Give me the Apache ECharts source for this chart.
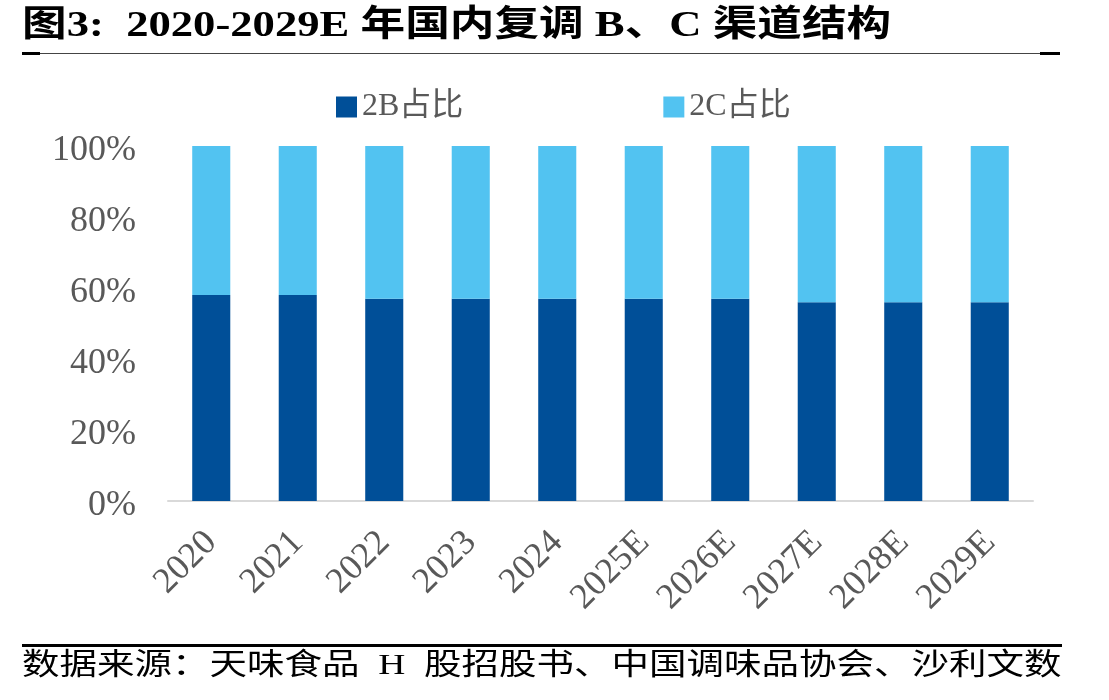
<!DOCTYPE html>
<html><head><meta charset="utf-8">
<script src="https://cdn.jsdelivr.net/npm/echarts@6/dist/echarts.min.js"></script>
<style>html,body{margin:0;padding:0;background:#fff}#c{width:1109px;height:700px}</style>
</head><body><div id="c"></div>
<script>
var categories = ['2020','2021','2022','2023','2024','2025E','2026E','2027E','2028E','2029E'];
var share2B = [58, 58, 57, 57, 57, 57, 57, 56, 56, 56];
var share2C = [42, 42, 43, 43, 43, 43, 43, 44, 44, 44];
var yTicks = [0, 20, 40, 60, 80, 100];
var titleText = '图3:  2020-2029E 年国内复调 B、C 渠道结构';
var sourceText = '数据来源：天味食品  H  股招股书、中国调味品协会、沙利文数';

var serif = '"Liberation Serif","Times New Roman","Noto Sans CJK SC",serif';
var chart = echarts.init(document.getElementById('c'));
chart.setOption({
  animation: false,
  backgroundColor: '#fff',
  grid: {left: 168, right: 76, top: 146, bottom: 199},
  legend: {
    top: 86, left: 331, itemWidth: 21, itemHeight: 21, itemGap: 200,
    icon: 'rect',
    textStyle: {fontFamily: serif, fontSize: 32, color: '#595959'},
    data: ['2B占比','2C占比']
  },
  xAxis: {
    type: 'category', data: categories,
    axisLine: {lineStyle: {color: '#d9d9d9', width: 2}},
    axisTick: {show: false},
    axisLabel: {rotate: 45, margin: 36, fontFamily: serif, fontSize: 36, color: '#595959'}
  },
  yAxis: {
    type: 'value', min: 0, max: 100, interval: 20,
    axisLine: {show: false}, axisTick: {show: false}, splitLine: {show: false},
    axisLabel: {formatter: function(v){return yTicks.indexOf(v) >= 0 ? v + '%' : '';}, margin: 32, fontFamily: serif, fontSize: 36, color: '#595959', verticalAlign: 'top', lineHeight: 10}
  },
  series: [
    {name: '2B占比', type: 'bar', stack: 's', data: share2B, barWidth: '44%', itemStyle: {color: '#004f98'}},
    {name: '2C占比', type: 'bar', stack: 's', data: share2C, barWidth: '44%', itemStyle: {color: '#52c3f1'}}
  ],
  graphic: [
    {type: 'text', x: 22, y: 9, scaleX: 1.24, style: {text: titleText, x: 0, y: 0, font: 'bold 36px ' + serif, fill: '#000', textVerticalAlign: 'top'}},
    {type: 'rect', shape: {x: 22, y: 53, width: 1038, height: 1}, style: {fill: '#444'}},
    {type: 'rect', shape: {x: 22, y: 52, width: 18, height: 3}, style: {fill: '#000'}},
    {type: 'rect', shape: {x: 1040, y: 52, width: 20, height: 3}, style: {fill: '#000'}},
    {type: 'rect', shape: {x: 22, y: 644, width: 1040, height: 3}, style: {fill: '#000'}},
    {type: 'text', x: 22, y: 651, scaleX: 1.25, style: {text: sourceText, x: 0, y: 0, font: '30px ' + serif, fill: '#000', textVerticalAlign: 'top'}}
  ]
});
</script></body></html>
